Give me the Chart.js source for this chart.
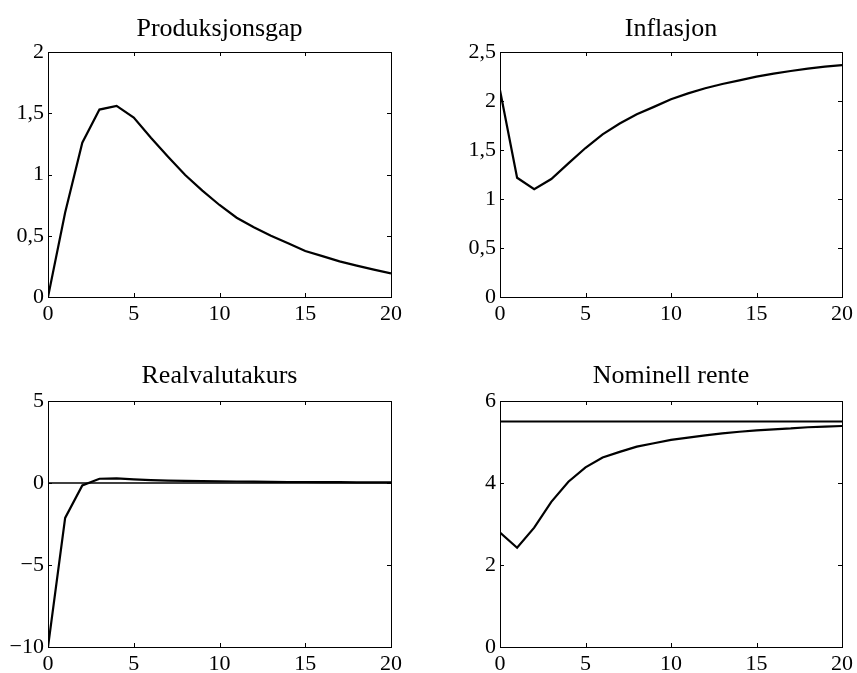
<!DOCTYPE html>
<html>
<head>
<meta charset="utf-8">
<script src="https://cdn.jsdelivr.net/npm/chart.js@4/dist/chart.umd.min.js"></script>
<style>
  body { margin: 0; background: #fff; }
  #wrap { position: relative; width: 857px; height: 673px; }
  canvas { position: absolute; }
</style>
</head>
<body>
<div id="wrap">
  <canvas id="c1" width="428" height="330" style="left:0;top:0"></canvas>
  <canvas id="c2" width="429" height="330" style="left:428px;top:0"></canvas>
  <canvas id="c3" width="428" height="343" style="left:0;top:330px"></canvas>
  <canvas id="c4" width="429" height="343" style="left:428px;top:330px"></canvas>
</div>
<script>
// kvartaler etter sjokket
const periods = [0,1,2,3,4,5,6,7,8,9,10,11,12,13,14,15,16,17,18,19,20];

const produksjonsgap = [0, 0.69, 1.26, 1.53, 1.56, 1.465, 1.30, 1.145, 0.996, 0.869, 0.751,
  0.647, 0.569, 0.50, 0.438, 0.375, 0.334, 0.291, 0.256, 0.223, 0.193];
const inflasjon = [2.11, 1.217, 1.10, 1.204, 1.364, 1.52, 1.66, 1.77, 1.864, 1.94, 2.017,
  2.078, 2.13, 2.173, 2.21, 2.248, 2.28, 2.306, 2.33, 2.35, 2.367];
const realvalutakurs = [-10, -2.13, -0.15, 0.26, 0.28, 0.22, 0.18, 0.15, 0.13, 0.11, 0.1,
  0.09, 0.08, 0.07, 0.06, 0.06, 0.05, 0.05, 0.04, 0.04, 0.04];
const nominellRente = [2.79, 2.42, 2.91, 3.54, 4.03, 4.38, 4.62, 4.76, 4.886, 4.97, 5.05,
  5.105, 5.16, 5.21, 5.25, 5.285, 5.31, 5.33, 5.36, 5.375, 5.39];

// referanselinjer
const nullLinje = [0, 0];
const likevektsRente = [5.5, 5.5];
const endePunkter = [0, 20];

const yTicks1 = [0, 0.5, 1, 1.5, 2];
const yTicks2 = [0, 0.5, 1, 1.5, 2, 2.5];
const yTicks3 = [-10, -5, 0, 5];
const yTicks4 = [0, 2, 4, 6];

const FONT = "'Liberation Serif', 'Times New Roman', serif";

function pts(xs, ys) {
  return xs.map((x, i) => ({ x: x, y: ys[i] }));
}

function fmt(v) {
  return String(v).replace('.', ',').replace('-', '\u2212');
}

// Matlab-aktig boks med tikkmerker innover
const boxTicks = {
  id: 'boxTicks',
  afterDraw(chart) {
    const ctx = chart.ctx;
    const a = chart.chartArea;
    const len = 4;
    ctx.save();
    ctx.strokeStyle = '#000';
    ctx.lineWidth = 1;
    ctx.strokeRect(Math.round(a.left) + 0.5, Math.round(a.top) + 0.5,
      Math.round(a.right - a.left), Math.round(a.bottom - a.top));
    ctx.beginPath();
    chart.scales.x.ticks.forEach(t => {
      const px = Math.round(chart.scales.x.getPixelForValue(t.value)) + 0.5;
      ctx.moveTo(px, a.bottom); ctx.lineTo(px, a.bottom - len);
      ctx.moveTo(px, a.top); ctx.lineTo(px, a.top + len);
    });
    chart.scales.y.ticks.forEach(t => {
      const py = Math.round(chart.scales.y.getPixelForValue(t.value)) + 0.5;
      ctx.moveTo(a.left, py); ctx.lineTo(a.left + len, py);
      ctx.moveTo(a.right, py); ctx.lineTo(a.right - len, py);
    });
    ctx.stroke();
    ctx.restore();
  }
};

function lineSet(data, w) {
  return {
    data: data,
    borderColor: '#000',
    borderWidth: w,
    pointRadius: 0,
    tension: 0,
    fill: false
  };
}

function makeChart(id, title, datasets, yMin, yMax, yTickVals, axisW, padRight, xAxisH, titlePad) {
  const ctx = document.getElementById(id).getContext('2d');
  return new Chart(ctx, {
    type: 'line',
    data: { datasets: datasets },
    options: {
      responsive: false,
      animation: false,
      devicePixelRatio: 1,
      layout: { padding: { left: 0, right: padRight, top: 0, bottom: 0 } },
      plugins: {
        legend: { display: false },
        tooltip: { enabled: false },
        title: {
          display: true,
          fullSize: false,
          text: title,
          color: '#000',
          font: { family: FONT, size: 26, weight: 'normal', lineHeight: 1.2 },
          padding: titlePad
        }
      },
      scales: {
        x: {
          type: 'linear',
          min: 0,
          max: 20,
          grid: { display: false, drawTicks: false },
          border: { display: false },
          ticks: {
            stepSize: 5,
            color: '#000',
            padding: 4,
            maxRotation: 0,
            font: { family: FONT, size: 22 },
            callback: v => fmt(v)
          },
          afterFit(s) { s.height = xAxisH; }
        },
        y: {
          min: yMin,
          max: yMax,
          grid: { display: false, drawTicks: false },
          border: { display: false },
          afterBuildTicks(s) { s.ticks = yTickVals.map(v => ({ value: v })); },
          ticks: {
            color: '#000',
            padding: 4,
            font: { family: FONT, size: 22 },
            callback: v => fmt(v)
          },
          afterFit(s) { s.width = axisW; }
        }
      }
    },
    plugins: [boxTicks]
  });
}

makeChart('c1', 'Produksjonsgap',
  [lineSet(pts(periods, produksjonsgap), 2.2)],
  0, 2, yTicks1, 48, 37, 33, { top: 13.5, bottom: 7.3 });

makeChart('c2', 'Inflasjon',
  [lineSet(pts(periods, inflasjon), 2.2)],
  0, 2.5, yTicks2, 72, 14, 33, { top: 13.5, bottom: 7.3 });

makeChart('c3', 'Realvalutakurs',
  [lineSet(pts(endePunkter, nullLinje), 1.6), lineSet(pts(periods, realvalutakurs), 2.2)],
  -10, 5, yTicks3, 48, 37, 26, { top: 30.5, bottom: 9.3 });

makeChart('c4', 'Nominell rente',
  [lineSet(pts(endePunkter, likevektsRente), 2.2), lineSet(pts(periods, nominellRente), 2.2)],
  0, 6, yTicks4, 72, 14, 26, { top: 30.5, bottom: 9.3 });
</script>
</body>
</html>
